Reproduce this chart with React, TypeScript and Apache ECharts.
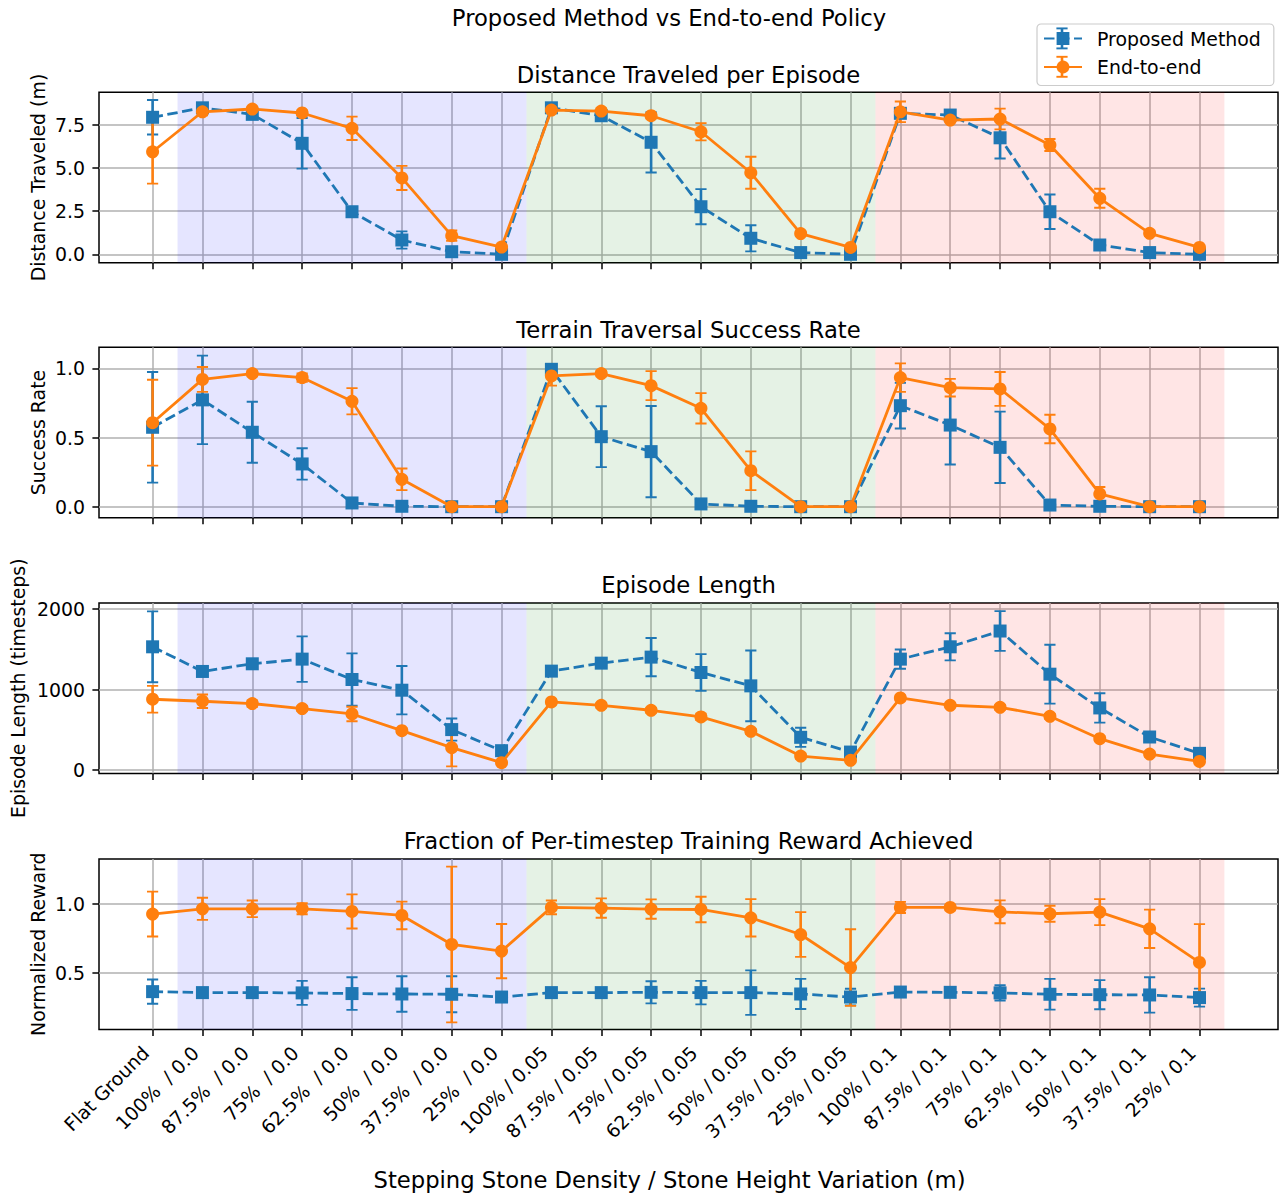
import React, { useEffect, useRef } from "react";
import * as echarts from "echarts";

const FONT = "DejaVu Sans";

const categories = [
  "Flat Ground", "100%  / 0.0", "87.5%  / 0.0", "75%  / 0.0", "62.5%  / 0.0", "50%  / 0.0",
  "37.5%  / 0.0", "25%  / 0.0", "100% / 0.05", "87.5% / 0.05", "75% / 0.05", "62.5% / 0.05",
  "50% / 0.05", "37.5% / 0.05", "25% / 0.05", "100% / 0.1", "87.5% / 0.1", "75% / 0.1",
  "62.5% / 0.1", "50% / 0.1", "37.5% / 0.1", "25% / 0.1",
];

const distProposed = [7.95, 8.5, 8.12, 6.44, 2.47, 0.83, 0.15, 0.0, 8.5, 8.04, 6.5, 2.76, 0.93, 0.1, 0.0, 8.18, 8.08, 6.76, 2.47, 0.54, 0.1, 0.0];
const distProposedErr = [1.0, 0.1, 0.1, 1.47, 0.15, 0.5, 0.1, 0.05, 0.1, 0.15, 1.75, 1.02, 0.76, 0.1, 0.05, 0.15, 0.15, 1.2, 1.0, 0.15, 0.1, 0.05];
const distE2E = [5.95, 8.27, 8.43, 8.2, 7.31, 4.43, 1.08, 0.42, 8.37, 8.31, 8.04, 7.11, 4.73, 1.2, 0.4, 8.27, 7.79, 7.85, 6.34, 3.25, 1.22, 0.4];
const distE2EErr = [1.85, 0.2, 0.1, 0.15, 0.68, 0.7, 0.3, 0.1, 0.15, 0.15, 0.15, 0.5, 0.93, 0.1, 0.1, 0.6, 0.1, 0.6, 0.35, 0.55, 0.15, 0.1];

const succProposed = [0.574, 0.772, 0.538, 0.309, 0.027, 0.003, 0, 0, 0.993, 0.506, 0.398, 0.02, 0.003, 0, 0, 0.73, 0.59, 0.429, 0.012, 0.003, 0, 0];
const succProposedErr = [0.4, 0.32, 0.22, 0.113, 0.01, 0.005, 0, 0, 0.01, 0.22, 0.33, 0.01, 0.005, 0, 0, 0.165, 0.285, 0.258, 0.01, 0.005, 0, 0];
const succE2E = [0.607, 0.92, 0.962, 0.933, 0.762, 0.198, 0, 0, 0.945, 0.962, 0.875, 0.711, 0.26, 0, 0, 0.933, 0.86, 0.851, 0.562, 0.092, 0, 0];
const succE2EErr = [0.31, 0.09, 0.02, 0.03, 0.095, 0.078, 0, 0, 0.07, 0.02, 0.105, 0.11, 0.14, 0, 0, 0.103, 0.064, 0.122, 0.103, 0.05, 0, 0];

const lenProposed = [1531, 1225, 1320, 1378, 1125, 992, 503, 241, 1229, 1328, 1403, 1212, 1046, 407, 224, 1378, 1531, 1727, 1191, 772, 411, 208];
const lenProposedErr = [440, 40, 50, 283, 324, 300, 137, 30, 40, 40, 237, 228, 440, 118, 40, 120, 168, 247, 365, 183, 50, 30];
const lenE2E = [880, 855, 826, 764, 697, 490, 279, 92, 847, 805, 743, 660, 482, 174, 121, 896, 805, 780, 668, 390, 199, 108];
const lenE2EErr = [166, 83, 40, 30, 90, 30, 233, 20, 30, 30, 30, 40, 30, 30, 20, 30, 20, 30, 30, 30, 30, 20];

const rewProposed = [0.367, 0.36, 0.36, 0.358, 0.353, 0.35, 0.348, 0.328, 0.36, 0.36, 0.362, 0.36, 0.36, 0.35, 0.328, 0.364, 0.362, 0.358, 0.348, 0.345, 0.343, 0.324];
const rewProposedErr = [0.088, 0.02, 0.02, 0.087, 0.118, 0.128, 0.13, 0.03, 0.02, 0.02, 0.08, 0.085, 0.161, 0.109, 0.06, 0.02, 0.02, 0.055, 0.111, 0.105, 0.128, 0.065];
const rewE2E = [0.928, 0.966, 0.966, 0.966, 0.947, 0.918, 0.708, 0.66, 0.976, 0.971, 0.964, 0.961, 0.901, 0.78, 0.541, 0.976, 0.976, 0.944, 0.93, 0.942, 0.821, 0.578];
const rewE2EErr = [0.162, 0.08, 0.06, 0.04, 0.123, 0.1, 0.563, 0.196, 0.05, 0.07, 0.07, 0.092, 0.135, 0.162, 0.277, 0.04, 0.02, 0.083, 0.058, 0.094, 0.139, 0.277];

const distTicks = [0, 2.5, 5, 7.5];
const succTicks = [0, 0.5, 1.0];
const lenTicks = [0, 1000, 2000];
const rewTicks = [0.5, 1.0];

const subplotTitles = [
  "Distance Traveled per Episode",
  "Terrain Traversal Success Rate",
  "Episode Length",
  "Fraction of Per-timestep Training Reward Achieved",
];
const yNames = ["Distance Traveled (m)", "Success Rate", "Episode Length (timesteps)", "Normalized Reward"];
const seriesNames = ["Proposed Method", "End-to-end"];
const suptitle = "Proposed Method vs End-to-end Policy";
const xName = "Stepping Stone Density / Stone Height Variation (m)";

// shaded terrain groups: [start, end]
const spans = [[0.5, 7.5], [7.5, 14.5], [14.5, 21.5]];
const spanColors = ["rgba(0,0,255,0.1)", "rgba(0,128,0,0.1)", "rgba(255,0,0,0.1)"];

const BLUE = "#1f77b4";
const ORANGE = "#ff7f0e";

const GRID_TOPS = [92.3, 347.3, 603, 859];
const GRID_H = 170.4;
const GRID_LEFT = 99;
const GRID_W = 1179;

export default function App() {
  const ref = useRef<HTMLDivElement>(null);
  useEffect(() => {
    if (!ref.current) return;
    const chart = echarts.init(ref.current, null, { renderer: "svg" });

    const panels = [
      { p: distProposed, pe: distProposedErr, e: distE2E, ee: distE2EErr, ticks: distTicks, min: -0.487, max: 9.4, fmt: (v: number) => v.toFixed(1), gap: 52 },
      { p: succProposed, pe: succProposedErr, e: succE2E, ee: succE2EErr, ticks: succTicks, min: -0.0795, max: 1.152, fmt: (v: number) => v.toFixed(1), gap: 52 },
      { p: lenProposed, pe: lenProposedErr, e: lenE2E, ee: lenE2EErr, ticks: lenTicks, min: -41, max: 2075, fmt: (v: number) => String(Math.round(v)), gap: 72 },
      { p: rewProposed, pe: rewProposedErr, e: rewE2E, ee: rewE2EErr, ticks: rewTicks, min: 0.094, max: 1.326, fmt: (v: number) => v.toFixed(1), gap: 52 },
    ];

    const idx = categories.map((_, i) => i);

    const errRender = (color: string) => (params: any, api: any) => {
      const x = api.value(0);
      const y = api.value(1);
      const e = api.value(2);
      const top = api.coord([x, y + e]);
      const bot = api.coord([x, y - e]);
      const cap = 5.6;
      const st = { stroke: color, lineWidth: 2.6 };
      const cst = { stroke: color, lineWidth: 1.9 };
      return {
        type: "group",
        children: [
          { type: "line", shape: { x1: top[0], y1: top[1], x2: bot[0], y2: bot[1] }, style: st },
          { type: "line", shape: { x1: top[0] - cap, y1: top[1], x2: top[0] + cap, y2: top[1] }, style: cst },
          { type: "line", shape: { x1: bot[0] - cap, y1: bot[1], x2: bot[0] + cap, y2: bot[1] }, style: cst },
        ],
      };
    };

    const grids: any[] = [];
    const xAxes: any[] = [];
    const yAxes: any[] = [];
    const series: any[] = [];
    const titles: any[] = [];
    const titleStyle = { fontFamily: FONT, fontSize: 22.7, fontWeight: "normal", color: "#000" };

    titles.push({ text: suptitle, left: 669, top: 6, textAlign: "center", padding: 0, textStyle: titleStyle });
    titles.push({ text: xName, left: 669.5, top: 1168, textAlign: "center", padding: 0, textStyle: titleStyle });

    panels.forEach((pn, g) => {
      grids.push({
        left: GRID_LEFT, top: GRID_TOPS[g], width: GRID_W, height: GRID_H,
        show: true, borderColor: "#000", borderWidth: 1.5, backgroundColor: "transparent",
        outerBoundsMode: "none", containLabel: false,
      });
      titles.push({
        text: subplotTitles[g], left: GRID_LEFT + GRID_W / 2, top: GRID_TOPS[g] - 29.2, textAlign: "center",
        padding: 0, textStyle: titleStyle,
      });
      const last = g === panels.length - 1;
      xAxes.push({
        type: "value", gridIndex: g, min: -1.075, max: 22.575, position: "bottom",
        axisLine: { show: false, onZero: false },
        axisTick: { show: true, customValues: idx, length: 6.6, lineStyle: { color: "#000", width: 1.5 } },
        splitLine: { show: true, lineStyle: { color: "#b0b0b0", width: 1.5 } },
        axisLabel: last
          ? {
              show: true, customValues: idx, rotate: 45, margin: 13, padding: [0, 10, 0, 0],
              formatter: (v: number) => categories[Math.round(v)] ?? "",
              fontFamily: FONT, fontSize: 18.9, color: "#000",
            }
          : { show: false },
      });
      yAxes.push({
        type: "value", gridIndex: g, min: pn.min, max: pn.max, position: "left",
        name: yNames[g], nameLocation: "middle", nameGap: pn.gap, nameMoveOverlap: false,
        nameTextStyle: { fontFamily: FONT, fontSize: 18.9, color: "#000" },
        axisLine: { show: false, onZero: false },
        axisTick: { show: true, customValues: pn.ticks, length: 6.6, lineStyle: { color: "#000", width: 1.5 } },
        splitLine: { show: true, lineStyle: { color: "#b0b0b0", width: 1.5 } },
        axisLabel: {
          show: true, customValues: pn.ticks, margin: 14,
          formatter: (v: number) => pn.fmt(v),
          fontFamily: FONT, fontSize: 18.9, color: "#000",
        },
      });

      series.push({
        type: "custom", name: "err-p-" + g, xAxisIndex: g, yAxisIndex: g, z: 2, clip: true,
        renderItem: errRender(BLUE),
        data: idx.map((i) => [i, pn.p[i], pn.pe[i]]),
        encode: { x: 0, y: 1 },
        silent: true,
      });
      series.push({
        type: "custom", name: "err-e-" + g, xAxisIndex: g, yAxisIndex: g, z: 2, clip: true,
        renderItem: errRender(ORANGE),
        data: idx.map((i) => [i, pn.e[i], pn.ee[i]]),
        encode: { x: 0, y: 1 },
        silent: true,
      });
      series.push({
        type: "line", name: seriesNames[0], xAxisIndex: g, yAxisIndex: g, z: 3,
        data: idx.map((i) => [i, pn.p[i]]),
        symbol: "rect", symbolSize: 13, showAllSymbol: true,
        lineStyle: { color: BLUE, width: 2.8, type: [10.5, 4.5] },
        itemStyle: { color: BLUE },
        markArea: {
          silent: true,
          data: spans.map((s, k) => [
            { xAxis: s[0], itemStyle: { color: spanColors[k] } },
            { xAxis: s[1] },
          ]),
        },
      });
      series.push({
        type: "line", name: seriesNames[1], xAxisIndex: g, yAxisIndex: g, z: 4,
        data: idx.map((i) => [i, pn.e[i]]),
        symbol: "circle", symbolSize: 13, showAllSymbol: true,
        lineStyle: { color: ORANGE, width: 2.8, type: "solid" },
        itemStyle: { color: ORANGE },
      });
    });

    const legendIconX = 1062;
    const legendYs = [38.4, 66.8];
    const legendColors = [BLUE, ORANGE];
    const graphics: any[] = [];
    legendYs.forEach((y, k) => {
      const st = { stroke: legendColors[k], lineWidth: 2.6 };
      graphics.push({ type: "line", z: 100, shape: { x1: legendIconX, y1: y - 10, x2: legendIconX, y2: y + 10 }, style: st });
      graphics.push({ type: "line", z: 100, shape: { x1: legendIconX - 5.6, y1: y - 10, x2: legendIconX + 5.6, y2: y - 10 }, style: { ...st, lineWidth: 1.9 } });
      graphics.push({ type: "line", z: 100, shape: { x1: legendIconX - 5.6, y1: y + 10, x2: legendIconX + 5.6, y2: y + 10 }, style: { ...st, lineWidth: 1.9 } });
    });

    chart.setOption({
      animation: false,
      backgroundColor: "#fff",
      title: titles,
      grid: grids,
      xAxis: xAxes,
      yAxis: yAxes,
      series,
      graphic: graphics,
      legend: {
        data: seriesNames,
        orient: "vertical",
        left: 1037, top: 24,
        itemWidth: 38, itemHeight: 16, itemGap: 9.5,
        padding: [5, 13, 9, 6],
        backgroundColor: "rgba(255,255,255,0.8)",
        borderColor: "#cccccc", borderWidth: 1.2, borderRadius: 4,
        textStyle: { fontFamily: FONT, fontSize: 18.9, color: "#000", padding: [0, 0, 0, 10] },
        selectedMode: false,
      },
    });
    return () => chart.dispose();
  }, []);
  return <div ref={ref} style={{ position: "absolute", left: 0, top: 0, width: 1280, height: 1196 }} />;
}
